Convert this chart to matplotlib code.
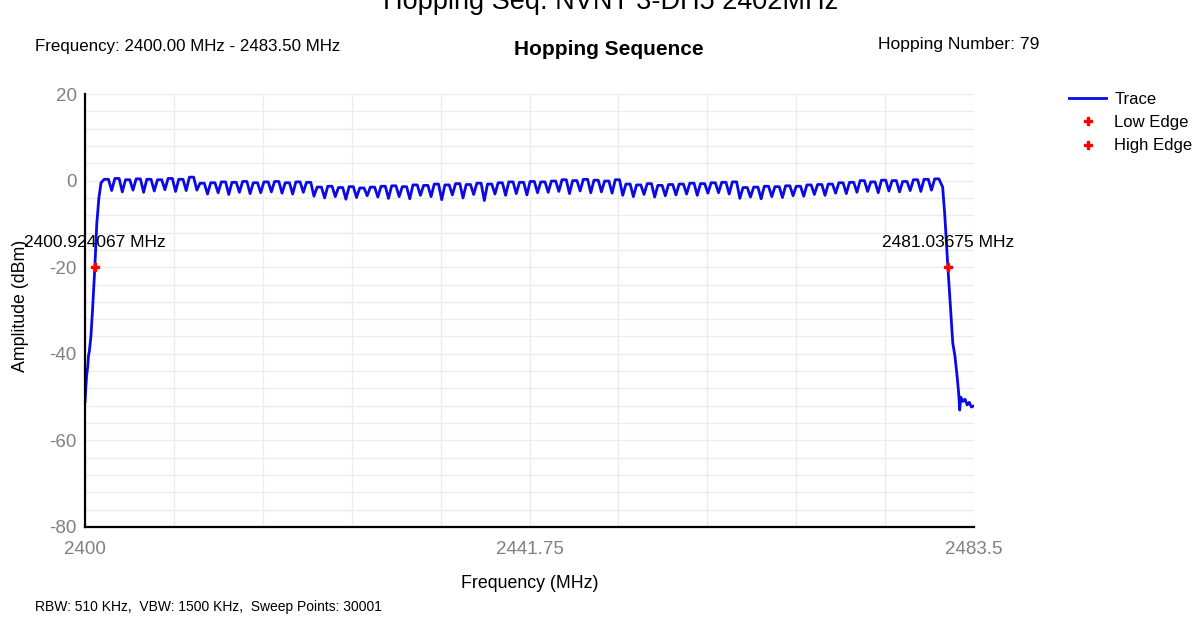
import numpy as np
import matplotlib.pyplot as plt
from matplotlib.ticker import FixedLocator, MultipleLocator

# Skirts of the trace (MHz, dBm)
left_skirt_freq = [2400.0, 2400.08, 2400.15, 2400.25, 2400.32, 2400.4, 2400.55, 2400.7, 2400.92, 2401.1, 2401.3, 2401.5]
left_skirt_amp = [-51.0, -47.5, -45.0, -43.0, -40.5, -39.5, -36.0, -30.0, -20.0, -10.0, -4.0, -0.5]
right_skirt_freq = [2480.55, 2480.75, 2481.04, 2481.3, 2481.5, 2481.7, 2481.9, 2482.05, 2482.15, 2482.25,
                    2482.45, 2482.65, 2482.85, 2483.05, 2483.25, 2483.5]
right_skirt_amp = [-1.5, -8.0, -20.0, -30.0, -37.5, -40.5, -45.0, -49.0, -53.0, -50.0,
                   -51.0, -50.5, -51.8, -51.2, -52.3, -52.0]

# Hopping channels and the level of each channel (peak) and the dip between channels
channels = list(range(2402, 2481))
peaks = [0.3, 0.5, 0.2, 0.4, 0.3, 0.2, 0.5, 0.3, 0.8, -0.6, -0.5, -0.3, -0.4, -0.2, -0.5,
         -0.3, -0.2, -0.5, -0.3, -0.4, -1.5, -1.3, -1.6, -1.4, -1.7, -1.5, -1.3,
         -1.2, -1.4, -1.0, -1.1, -0.8, -1.0, -0.7, -0.9, -0.6, -0.8, -0.5, -0.3, -0.4, -0.2, -0.3,
         -0.1, 0.2, 0.0, 0.3, 0.1, -0.1, 0.2, -0.8, -1.0, -0.7, -1.1, -0.9, -0.8, -0.6, -0.7,
         -0.5, -0.4, -0.3, -1.6, -1.5, -1.3, -1.4, -1.2, -1.3, -1.0, -0.9, -0.8, -0.5, -0.4,
         0.0, -0.3, 0.1, 0.0, -0.2, 0.2, 0.3, 0.4]
dips = [-2.3, -2.6, -2.2, -2.7, -2.4, -2.1, -2.5, -2.3, -2.2, -3.1, -2.8, -3.2, -2.7, -3.0,
        -2.8, -2.6, -2.9, -3.1, -2.7, -3.6, -4.0, -3.7, -4.3, -3.9, -3.5, -3.8,
        -4.1, -3.7, -4.2, -3.4, -3.7, -4.4, -3.3, -4.0, -3.2, -4.6, -3.1, -3.4, -3.0, -3.3, -2.8,
        -2.7, -2.5, -3.0, -2.4, -2.8, -2.6, -2.9, -3.4, -3.7, -3.2, -3.8, -3.5, -3.3, -3.1, -3.4,
        -2.9, -2.8, -3.1, -4.1, -3.8, -4.2, -3.7, -3.9, -3.5, -3.6, -3.2, -3.4, -2.9, -3.0,
        -2.7, -2.5, -2.8, -2.4, -2.6, -2.3, -2.5, -2.2]

low_edge = (2400.924067, -20.0)
high_edge = (2481.03675, -20.0)
xtick_vals = [2400, 2441.75, 2483.5]
ytick_vals = [20, 0, -20, -40, -60, -80]

# assemble the trace
freq = list(left_skirt_freq)
amp = list(left_skirt_amp)
for i, c in enumerate(channels):
    freq += [c - 0.2, c + 0.2]
    amp += [peaks[i], peaks[i]]
    if i < len(dips):
        freq.append(c + 0.5)
        amp.append(dips[i])
freq += right_skirt_freq
amp += right_skirt_amp

plt.rcParams['font.family'] = ['Liberation Sans', 'DejaVu Sans']
plt.rcParams['axes.unicode_minus'] = False

fig = plt.figure(figsize=(12.03, 6.23), dpi=100)
ax = fig.add_axes([0.0707, 0.1541, 0.739, 0.695])

trace, = ax.plot(freq, amp, color='#0a0ae6', lw=2, label='Trace')
lo, = ax.plot([low_edge[0]], [low_edge[1]], 'P', color='red', ms=6, label='Low Edge')
hi, = ax.plot([high_edge[0]], [high_edge[1]], 'P', color='red', ms=6, label='High Edge')

ax.text(low_edge[0], low_edge[1] + 5.7, '%.6f MHz' % low_edge[0], ha='center', va='center', fontsize=12.5)
ax.text(high_edge[0], high_edge[1] + 5.7, '%.5f MHz' % high_edge[0], ha='center', va='center', fontsize=12.5)

ax.set_xlim(2400, 2483.5)
ax.set_ylim(-80, 20)
ax.set_xticks(xtick_vals)
ax.set_xticklabels(['2400', '2441.75', '2483.5'])
ax.set_yticks(ytick_vals)
ax.xaxis.set_minor_locator(FixedLocator(np.linspace(2400, 2483.5, 11)))
ax.yaxis.set_minor_locator(MultipleLocator(4))
ax.grid(True, which='both', color='#ececec', lw=1)
ax.set_axisbelow(True)
ax.tick_params(which='both', length=0, labelsize=13.5, colors='#808080', pad=6)
ax.tick_params(axis='x', pad=10)
for s in ['top', 'right']:
    ax.spines[s].set_visible(False)
for s in ['left', 'bottom']:
    ax.spines[s].set_linewidth(1.6)
    ax.spines[s].set_color('black')

ax.set_xlabel('Frequency (MHz)', fontsize=12.8, labelpad=12)
ax.set_ylabel('Amplitude (dBm)', fontsize=12.8)
ax.yaxis.set_label_coords(-0.063, 0.51)

fig.text(0.508, 0.997, 'Hopping Seq. NVNT 3-DH5 2402MHz', ha='center', va='center', fontsize=19.5)
fig.text(0.029, 0.926, 'Frequency: 2400.00 MHz - 2483.50 MHz', ha='left', va='center', fontsize=12.2)
fig.text(0.506, 0.921, 'Hopping Sequence', ha='center', va='center', fontsize=15, fontweight='bold')
fig.text(0.730, 0.928, 'Hopping Number: 79', ha='left', va='center', fontsize=12.6)
fig.text(0.029, 0.025, 'RBW: 510 KHz,  VBW: 1500 KHz,  Sweep Points: 30001', ha='left', va='center',
         fontsize=10)

fig.legend(handles=[trace, lo, hi], loc='upper left', bbox_to_anchor=(0.882, 0.866), frameon=False,
           fontsize=12, handlelength=2.2, labelspacing=0.5, borderpad=0, handletextpad=0.5)

fig.savefig('out.png', dpi=100)
